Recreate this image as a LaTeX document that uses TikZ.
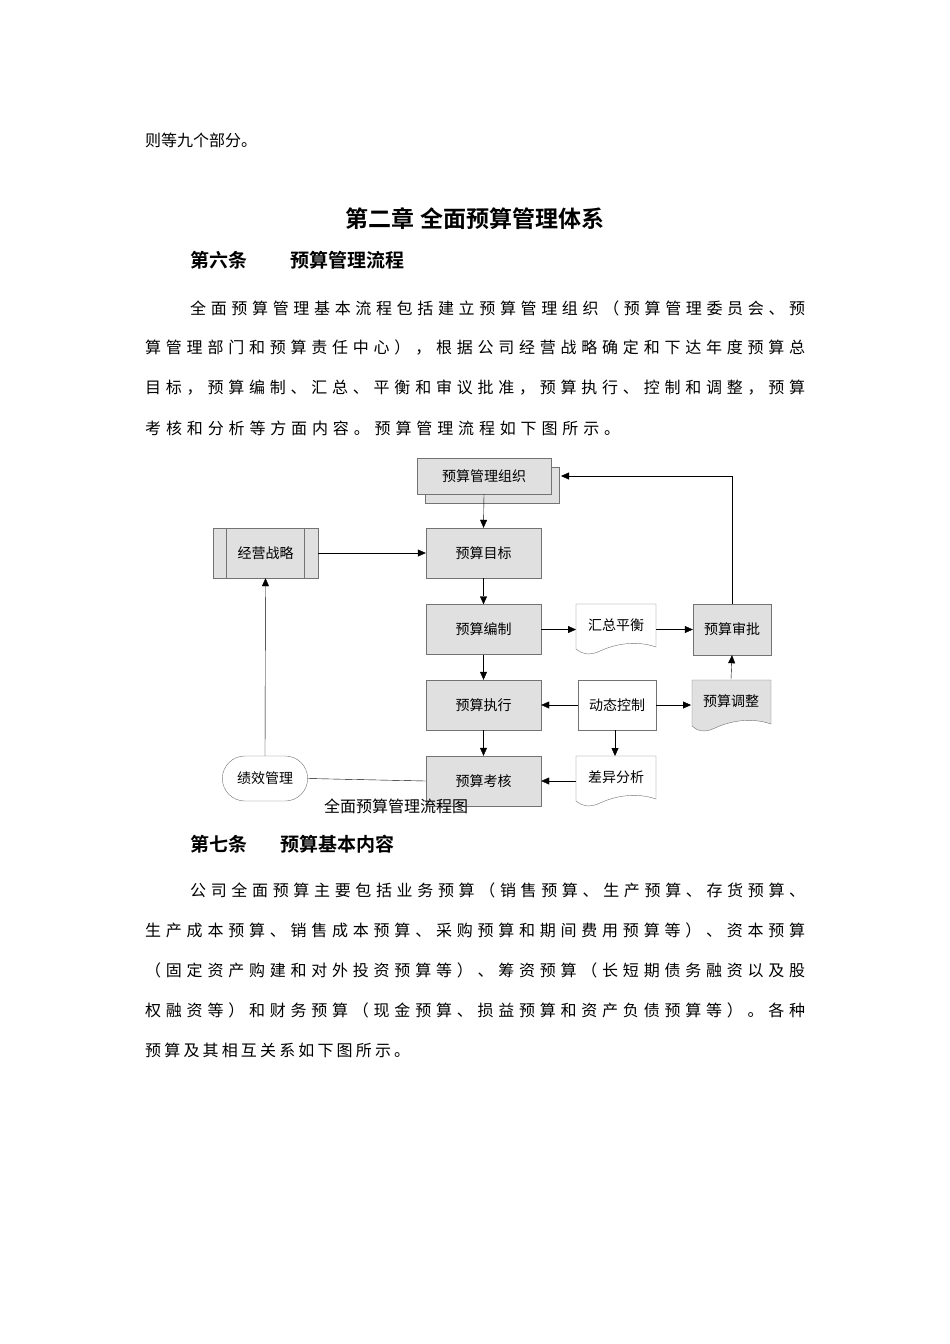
\documentclass[tikz,border=0pt]{standalone}
\usepackage{fontspec}
\setmainfont{Noto Sans CJK SC}
\newfontfamily\cjkb{Noto Sans CJK SC}[BoldFont={* Bold}]
\usetikzlibrary{arrows.meta,shapes.misc}
\def\spx#1{\ifx#1\relax\unskip\else#1\hfil\expandafter\spx\fi}
\newcommand\jline[2]{\makebox[#1pt][s]{\spx#2\relax}}
\begin{document}
\begin{tikzpicture}[x=1pt,y=-1pt,
  body/.style={anchor=west,inner sep=0,font=\fontsize{16}{16}\selectfont},
  gbox/.style={draw=black!55,fill=black!12,minimum width=115pt,minimum height=50pt,font=\fontsize{14}{14}\selectfont},
  wbox/.style={draw=black!55,fill=white,minimum width=79pt,minimum height=50pt,font=\fontsize{14}{14}\selectfont},
  arr/.style={-{Triangle[length=8pt,width=7pt]},black}]
\useasboundingbox (0,0) rectangle (950,1344);
\fill[white] (0,0) rectangle (950,1344);
\node[body] (t0) at (145,140) {则等九个部分。};
\node[font=\fontsize{23}{23}\selectfont\bfseries\cjkb] (title) at (475,219) {第二章\ 全面预算管理体系};
\node[body,font=\fontsize{19}{19}\selectfont\bfseries\cjkb] (s6a) at (190,260) {第六条};
\node[body,font=\fontsize{19}{19}\selectfont\bfseries\cjkb] (s6b) at (290,260) {预算管理流程};
\node[body] (p1) at (190,308) {\jline{615}{全面预算管理基本流程包括建立预算管理组织（预算管理委员会、预}};
\node[body] (p2) at (145,348) {\jline{660}{算管理部门和预算责任中心），根据公司经营战略确定和下达年度预算总}};
\node[body] (p3) at (145,388) {\jline{660}{目标，预算编制、汇总、平衡和审议批准，预算执行、控制和调整，预算}};
\node[body] (p4) at (145,428) {\jline{475}{考核和分析等方面内容。预算管理流程如下图所示。}};
% diagram
\fill[black!12,draw=black!55] (425,467) rectangle (559,503);
\node[draw=black!55,fill=black!12,minimum width=134pt,minimum height=36pt,font=\fontsize{14}{14}\selectfont] (org) at (484,476) {预算管理组织};
\node[gbox,minimum width=105pt] (zl) at (265.5,553) {经营战略};
\draw[black!55] (226,528) -- (226,578) (304,528) -- (304,578);
\node[gbox] (mb) at (483.5,553) {预算目标};
\node[gbox] (bz) at (483.5,629.5) {预算编制};
\node[gbox] (zx) at (483.5,705) {预算执行};
\node[gbox] (kh) at (483.5,781) {预算考核};
\node[gbox,minimum width=78pt,minimum height=51pt] (sp) at (732,629.5) {预算审批};
\node[wbox,minimum width=78pt] (kz) at (617,705) {动态控制};
\draw[black!55,fill=white] (576,604) -- (656,604) -- (656,647) .. controls (636,640) and (615,644) .. (600,651) .. controls (590,656) and (582,654) .. (576,649) -- cycle;
\node[font=\fontsize{14}{14}\selectfont] (hz) at (616,625) {汇总平衡};
\draw[black!55,fill=white] (576,756) -- (656,756) -- (656,799) .. controls (636,792) and (615,796) .. (600,803) .. controls (590,808) and (582,806) .. (576,801) -- cycle;
\node[font=\fontsize{14}{14}\selectfont] (cy) at (616,777) {差异分析};
\draw[black!55,fill=black!12] (692,680) -- (771,680) -- (771,724) .. controls (751,717) and (730,721) .. (715,728) .. controls (705,733) and (697,731) .. (692,726) -- cycle;
\node[font=\fontsize{14}{14}\selectfont] (tz) at (731,701) {预算调整};
\node[draw=black!55,fill=white,rounded rectangle,minimum width=92pt,minimum height=45pt,font=\fontsize{14}{14}\selectfont] (jx) at (265,778.5) {绩效管理};
% connectors
\draw[arr] (org.south) -- (mb.north);
\draw[arr] (zl.east) -- (mb.west);
\draw[arr] (mb) -- (bz);
\draw[arr] (bz) -- (zx);
\draw[arr] (zx) -- (kh);
\draw[arr] (bz.east) -- (576,629.5);
\draw[arr] (656,629.5) -- (sp.west);
\draw[arr] (kz.west) -- (zx.east);
\draw[arr] (kz.east) -- (691,705);
\draw[arr] (731,679) -- (sp.south);
\draw[arr] (615,730) -- (615,756);
\draw[arr] (576,781) -- (kh.east);
\draw (jx.east) -- (kh.west);
\draw[arr] (jx.north) -- (zl.south);
\draw[arr] (sp.north) |- (561,476);
\node[font=\fontsize{16}{16}\selectfont] (cap) at (396,806) {全面预算管理流程图};
\node[body,font=\fontsize{19}{19}\selectfont\bfseries\cjkb] (s7a) at (190,844) {第七条};
\node[body,font=\fontsize{19}{19}\selectfont\bfseries\cjkb] (s7b) at (280,844) {预算基本内容};
\node[body] (q1) at (190,890) {\jline{615}{公司全面预算主要包括业务预算（销售预算、生产预算、存货预算、}};
\node[body] (q2) at (145,930) {\jline{660}{生产成本预算、销售成本预算、采购预算和期间费用预算等）、资本预算}};
\node[body] (q3) at (145,970) {\jline{660}{（固定资产购建和对外投资预算等）、筹资预算（长短期债务融资以及股}};
\node[body] (q4) at (145,1010) {\jline{660}{权融资等）和财务预算（现金预算、损益预算和资产负债预算等）。各种}};
\node[body] (q5) at (145,1050) {\jline{265}{预算及其相互关系如下图所示。}};
\end{tikzpicture}
\end{document}
